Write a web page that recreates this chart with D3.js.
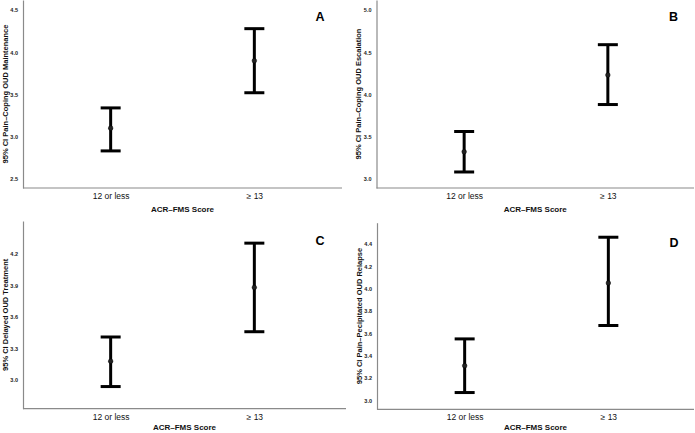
<!DOCTYPE html>
<html><head><meta charset="utf-8">
<script src="https://cdn.jsdelivr.net/npm/d3@7"></script>
<style>body{margin:0;background:#fff}svg{display:block}</style>
</head><body>
<svg id="c" width="695" height="433"></svg>
<script>
const categories = ["12 or less", "\u2265 13"];
const panelLabels = ["A", "B", "C", "D"];
const yTitles = [
  "95% CI Pain\u2013Coping OUD Maintenance",
  "95% CI Pain\u2013Coping OUD Escalation",
  "95% CI Delayed OUD Treatment",
  "95% CI Pain\u2013Pecipitated OUD Relapse"
];
const xTitle = "ACR\u2013FMS Score";
const means = [[3.10, 3.90], [3.32, 4.23], [3.18, 3.88], [3.31, 4.05]];
const lowers = [[2.83, 3.52], [3.08, 3.88], [2.94, 3.46], [3.07, 3.67]];
const uppers = [[3.34, 4.28], [3.56, 4.59], [3.41, 4.30], [3.55, 4.46]];
const yTicks = [
  [2.5, 3.0, 3.5, 4.0, 4.5],
  [3.0, 3.5, 4.0, 4.5, 5.0],
  [3.0, 3.3, 3.6, 3.9, 4.2],
  [3.0, 3.2, 3.4, 3.6, 3.8, 4.0, 4.2, 4.4]
];
const yDomains = [[2.39, 4.62], [2.89, 5.12], [2.73, 4.51], [2.92, 4.59]];

// layout
const frames = [
  {x0: 23, x1: 342, y0: 0, y1: 188},
  {x0: 376.5, x1: 694, y0: 0, y1: 188},
  {x0: 23, x1: 346, y0: 221, y1: 408.7},
  {x0: 377, x1: 694, y0: 222.7, y1: 409.3}
];
const svg = d3.select("#c");
const FONT = "'Liberation Sans', Arial, sans-serif";

frames.forEach((f, i) => {
  const g = svg.append("g");
  const x = d3.scalePoint().domain(categories).range([f.x0, f.x0 + 319]).padding(0.61);
  const y = d3.scaleLinear().domain(yDomains[i]).range([f.y1, f.y0]);

  // axes
  const yAxis = d3.axisLeft(y).tickValues(yTicks[i]).tickFormat(d3.format(".1f")).tickSize(0).tickPadding(5);
  const ya = g.append("g").attr("transform", `translate(${f.x0},0)`).call(yAxis);
  ya.select(".domain").attr("stroke", "#8a8a8a").attr("stroke-width", 1.2);
  ya.selectAll("text").attr("font-family", FONT).attr("font-size", 5.5).attr("font-weight", "bold").attr("fill", "#222");

  const xAxis = d3.axisBottom(x).tickSize(0).tickPadding(5);
  const xa = g.append("g").attr("transform", `translate(0,${f.y1})`).call(xAxis);
  xa.select(".domain").attr("stroke", "#8a8a8a").attr("stroke-width", 1.2)
    .attr("d", `M${f.x0},0H${f.x1}`);
  xa.selectAll("text").attr("font-family", FONT).attr("font-size", 8.5).attr("fill", "#111");

  // x title
  g.append("text").attr("x", (f.x0 + f.x1) / 2).attr("y", Math.min(f.y1 + 24, 429.5))
    .attr("text-anchor", "middle").attr("font-family", FONT).attr("font-size", 8)
    .attr("font-weight", "bold").attr("fill", "#111").text(xTitle);
  // y title
  g.append("text").attr("transform", `translate(${f.x0 - 15.5},${(f.y0 + f.y1) / 2}) rotate(-90)`)
    .attr("text-anchor", "middle").attr("font-family", FONT).attr("font-size", 7.5)
    .attr("font-weight", "bold").attr("fill", "#111").text(yTitles[i]);
  // panel label
  g.append("text").attr("x", f.x0 + 297).attr("y", f.y0 + 21 + (i >= 2 ? 3 : 0))
    .attr("text-anchor", "middle").attr("font-family", FONT).attr("font-size", 12.5)
    .attr("font-weight", "bold").attr("fill", "#000").text(panelLabels[i]);

  // error bars
  categories.forEach((c, j) => {
    const cx = x(c);
    const yl = y(lowers[i][j]), yu = y(uppers[i][j]);
    g.append("line").attr("x1", cx).attr("x2", cx).attr("y1", yl).attr("y2", yu)
      .attr("stroke", "#000").attr("stroke-width", 3);
    [yl, yu].forEach(yy => {
      g.append("line").attr("x1", cx - 10).attr("x2", cx + 10).attr("y1", yy).attr("y2", yy)
        .attr("stroke", "#000").attr("stroke-width", 3);
    });
    g.append("circle").attr("cx", cx).attr("cy", y(means[i][j])).attr("r", 2.3)
      .attr("fill", "#222").attr("stroke", "#000").attr("stroke-width", 0.5);
  });
});
</script>
</body></html>
